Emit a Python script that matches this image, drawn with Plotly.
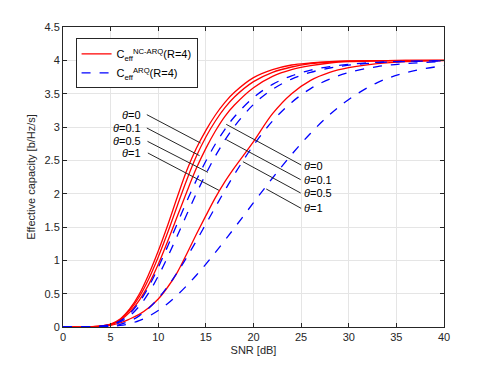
import plotly.graph_objects as go

# SNR grid [dB]
snr_db = [0, 3, 5, 6, 7, 8, 9, 10, 11, 12, 13, 14, 15, 16, 17, 18,
          20, 22, 24, 26, 28, 30, 33, 36, 40]

# NC-ARQ (red, solid) for theta = 0, 0.1, 0.5, 1
nc_arq_t0 = [0, 0.004, 0.045, 0.12, 0.27, 0.49, 0.79, 1.14, 1.53, 1.95, 2.35, 2.68,
             2.95, 3.18, 3.37, 3.52, 3.74, 3.86, 3.93, 3.96, 3.98, 3.99, 3.995, 3.998, 4.0]
nc_arq_t01 = [0, 0.003, 0.04, 0.11, 0.25, 0.45, 0.72, 1.05, 1.42, 1.82, 2.21, 2.56,
              2.85, 3.09, 3.29, 3.45, 3.68, 3.82, 3.90, 3.95, 3.975, 3.988, 3.995, 3.998, 4.0]
nc_arq_t05 = [0, 0.003, 0.035, 0.10, 0.22, 0.40, 0.64, 0.94, 1.29, 1.66, 2.03, 2.38,
              2.68, 2.94, 3.16, 3.33, 3.59, 3.76, 3.86, 3.92, 3.96, 3.98, 3.99, 3.996, 4.0]
nc_arq_t1 = [0, 0.002, 0.025, 0.06, 0.12, 0.19, 0.29, 0.42, 0.60, 0.82, 1.10, 1.39,
             1.67, 1.94, 2.18, 2.39, 2.78, 3.20, 3.50, 3.70, 3.82, 3.89, 3.95, 3.98, 3.995]

# ARQ (blue, dashed) for theta = 0, 0.1, 0.5, 1
arq_t0 = [0, 0.002, 0.035, 0.092, 0.200, 0.371, 0.605, 0.893, 1.215, 1.553, 1.886, 2.201,
          2.489, 2.745, 2.966, 3.154, 3.443, 3.639, 3.768, 3.852, 3.906, 3.940, 3.970, 3.985, 3.994]
arq_t01 = [0, 0.002, 0.029, 0.077, 0.167, 0.311, 0.512, 0.764, 1.055, 1.369, 1.690, 2.002,
           2.296, 2.565, 2.803, 3.010, 3.338, 3.566, 3.719, 3.820, 3.885, 3.927, 3.964, 3.982, 3.993]
arq_t05 = [0, 0.001, 0.015, 0.040, 0.089, 0.167, 0.280, 0.429, 0.609, 0.818, 1.047, 1.292,
           1.545, 1.799, 2.049, 2.290, 2.727, 3.089, 3.369, 3.576, 3.720, 3.818, 3.906, 3.952, 3.981]
arq_t1 = [0, 0.001, 0.009, 0.023, 0.050, 0.096, 0.161, 0.247, 0.354, 0.480, 0.621, 0.777,
          0.944, 1.119, 1.301, 1.487, 1.864, 2.235, 2.587, 2.907, 3.185, 3.413, 3.666, 3.816, 3.921]

theta_labels = ['0', '0.1', '0.5', '1']

fig = go.Figure()

red_curves = [nc_arq_t0, nc_arq_t01, nc_arq_t05, nc_arq_t1]
blue_curves = [arq_t0, arq_t01, arq_t05, arq_t1]

for i, ys in enumerate(red_curves):
    fig.add_trace(go.Scatter(x=snr_db, y=ys, mode='lines', line_shape='spline',
                             line=dict(color='#ff0000', width=1.3),
                             name='C<sub>eff</sub><sup>NC-ARQ</sup>(R=4)',
                             showlegend=(i == 0), legendgroup='nc'))
for i, ys in enumerate(blue_curves):
    fig.add_trace(go.Scatter(x=snr_db, y=ys, mode='lines', line_shape='spline',
                             line=dict(color='#0000ff', width=1.3, dash='dash'),
                             name='C<sub>eff</sub><sup>ARQ</sup>(R=4)',
                             showlegend=(i == 0), legendgroup='arq'))

# pointer lines for the theta labels (left -> red, right -> blue)
left_lines = [(8.80, 3.185, 14.44, 2.76), (8.80, 2.985, 14.34, 2.57),
              (8.87, 2.785, 15.21, 2.32), (8.91, 2.61, 16.37, 2.05)]
right_lines = [(17.14, 3.04, 25.0, 2.43), (17.14, 2.81, 24.95, 2.21),
               (18.89, 2.48, 24.95, 2.01), (21.34, 2.07, 25.0, 1.78)]
for x0, y0, x1, y1 in left_lines + right_lines:
    fig.add_shape(type='line', x0=x0, y0=y0, x1=x1, y1=y1, xref='x', yref='y',
                  line=dict(color='#262626', width=1))

left_y = [3.185, 2.985, 2.785, 2.61]
right_y = [2.42, 2.20, 2.01, 1.785]
for lab, yl, yr in zip(theta_labels, left_y, right_y):
    fig.add_annotation(x=8.45, y=yl, text='<i>θ</i>=' + lab, showarrow=False,
                       xanchor='right', yanchor='middle', font=dict(size=11, color='#000000'))
    fig.add_annotation(x=25.1, y=yr, text='<i>θ</i>=' + lab, showarrow=False,
                       xanchor='left', yanchor='middle', font=dict(size=11, color='#000000'))

axis_style = dict(showgrid=True, gridcolor='#e5e5e5', gridwidth=1,
                  showline=True, linecolor='#262626', linewidth=1, mirror='ticks',
                  ticks='inside', ticklen=4, tickcolor='#262626', zeroline=False,
                  tickfont=dict(size=11, color='#262626'))

fig.update_xaxes(range=[0, 40], tickmode='array', tickvals=list(range(0, 41, 5)),
                 title=dict(text='SNR [dB]', font=dict(size=11, color='#262626'), standoff=4),
                 **axis_style)
fig.update_yaxes(range=[0, 4.5], tickmode='array',
                 tickvals=[0, 0.5, 1, 1.5, 2, 2.5, 3, 3.5, 4, 4.5],
                 ticktext=['0', '0.5', '1', '1.5', '2', '2.5', '3', '3.5', '4', '4.5'],
                 title=dict(text='Effective capacity [b/Hz/s]', font=dict(size=11, color='#262626'), standoff=6),
                 **axis_style)

# the page body adds an 8px margin, so the figure is shifted by that amount
fig.update_layout(width=483, height=360,
                  margin=dict(l=55, r=47, t=19, b=41, autoexpand=False),
                  paper_bgcolor='white', plot_bgcolor='white',
                  font=dict(family='Liberation Sans, Arial, sans-serif', color='#262626'),
                  legend=dict(x=0.033, y=0.962, xanchor='left', yanchor='top',
                              bgcolor='white', bordercolor='#262626', borderwidth=1,
                              font=dict(size=11, color='#000000'), tracegroupgap=0,
                              itemwidth=30))

fig.write_html("out.html")
